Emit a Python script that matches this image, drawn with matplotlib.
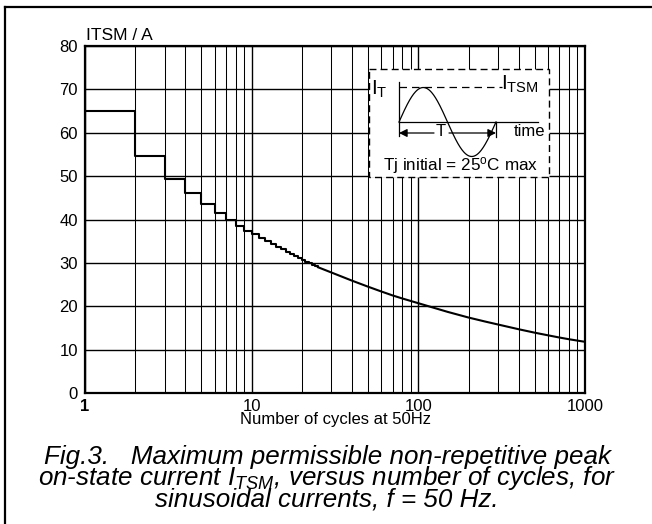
import numpy as np
import matplotlib
matplotlib.use("Agg")
import matplotlib.pyplot as plt
from matplotlib.lines import Line2D
from matplotlib.patches import Rectangle

plt.rcParams['font.family'] = ['Liberation Sans', 'DejaVu Sans']
plt.rcParams['mathtext.fontset'] = 'custom'
plt.rcParams['mathtext.rm'] = 'Liberation Sans'
plt.rcParams['mathtext.it'] = 'Liberation Sans:italic'

# ---- data ----
step_cycles = [1, 2, 3, 4, 5, 6, 7, 8, 9, 10, 11, 12, 13, 14, 15, 16, 17, 18, 19, 20, 21, 22, 23, 24, 25]
step_itsm = [65.0, 54.6, 49.3, 46.0, 43.5, 41.5, 40.0, 38.6, 37.4, 36.6, 35.8, 35.0, 34.3, 33.6,
             33.1, 32.5, 32.0, 31.5, 31.1, 30.7, 30.3, 29.9, 29.6, 29.3, 29.0]
smooth_cycles = [25, 30, 40, 50, 60, 70, 80, 100, 120, 150, 200, 250, 300, 400, 500, 600, 700, 800, 1000]
smooth_itsm = [29.0, 27.8, 25.9, 24.5, 23.4, 22.5, 21.8, 20.7, 19.8, 18.7, 17.4, 16.5, 15.8,
               14.7, 13.9, 13.3, 12.8, 12.4, 11.8]
y_ticks = [0, 10, 20, 30, 40, 50, 60, 70, 80]
x_ticks = [1, 10, 100, 1000]
x_tick_labels = ['1', '10', '100', '1000']

W, H = 652, 524
fig = plt.figure(figsize=(W / 100, H / 100), dpi=100)
fig.patch.set_facecolor('white')

def fx(px):
    return px / W

def fy(py):
    return 1 - py / H

# outer frame (left and top visible)
fig.add_artist(Line2D([fx(5), fx(5)], [fy(7), 0], color='black', lw=1.6, transform=fig.transFigure))
fig.add_artist(Line2D([fx(5), 1], [fy(7), fy(7)], color='black', lw=1.6, transform=fig.transFigure))

ax_l, ax_r, ax_t, ax_b = 85, 585, 46, 393
ax = fig.add_axes([fx(ax_l), fy(ax_b), fx(ax_r - ax_l), (ax_b - ax_t) / H])
ax.set_xscale('log')
ax.set_xlim(1, 1000)
ax.set_ylim(0, 80)

ax.step(step_cycles, step_itsm, where='post', color='black', lw=1.5, zorder=3)
ax.plot(smooth_cycles, smooth_itsm, color='black', lw=1.5, zorder=3)

ax.set_yticks(y_ticks)
ax.set_yticklabels([str(v) for v in y_ticks])
ax.set_xticks(x_ticks)
ax.set_xticklabels(x_tick_labels)
ax.xaxis.set_minor_locator(matplotlib.ticker.LogLocator(base=10, subs=np.arange(2, 10)))
ax.xaxis.set_minor_formatter(matplotlib.ticker.NullFormatter())
ax.tick_params(axis='both', which='both', length=0, labelsize=12, colors='black')
ax.tick_params(axis='y', pad=5)
ax.tick_params(axis='x', pad=4)
ax.get_xticklabels()[0].set_fontweight('bold')

ax.grid(True, which='major', axis='both', color='black', lw=1.0)
ax.grid(True, which='minor', axis='x', color='black', lw=0.75)
ax.set_axisbelow(True)
for s in ax.spines.values():
    s.set_linewidth(1.6)
    s.set_color('black')

ax.set_xlabel('Number of cycles at 50Hz', fontsize=12, labelpad=-1)
fig.text(fx(86), fy(35), 'ITSM / A', fontsize=12.5, ha='left', va='center')

# ---- inset schematic ----
bx0, by0, bx1, by1 = 368, 68, 549, 177
ins = fig.add_axes([fx(bx0), fy(by1), fx(bx1 - bx0), (by1 - by0) / H])
ins.set_xlim(bx0, bx1)
ins.set_ylim(by1, by0)
ins.axis('off')
ins.add_patch(Rectangle((bx0 + 0.5, by0 + 0.5), bx1 - bx0 - 1, by1 - by0 - 1, facecolor='white',
                        edgecolor='black', lw=1.0, ls=(0, (5, 3)), clip_on=False))
x0, base, per = 399, 122, 97
ins.plot([x0, x0], [82, 136], color='black', lw=0.9)
ins.plot([x0, 538], [base, base], color='black', lw=0.9)
ins.plot([x0, 502], [87, 87], color='black', lw=0.9, ls=(0, (6, 4)))
t = np.linspace(0, 1, 200)
ins.plot(x0 + per * t, base - 34.5 * np.sin(2 * np.pi * t), color='black', lw=0.9)
ins.plot([x0 + per, x0 + per], [base, 137], color='black', lw=0.9)
ins.annotate('', xy=(x0, 133), xytext=(434, 133),
             arrowprops=dict(arrowstyle='-|>', color='black', lw=0.9, mutation_scale=12, shrinkA=0, shrinkB=0))
ins.annotate('', xy=(x0 + per, 133), xytext=(449, 133),
             arrowprops=dict(arrowstyle='-|>', color='black', lw=0.9, mutation_scale=12, shrinkA=0, shrinkB=0))
ins.text(441, 131, 'T', fontsize=12, ha='center', va='center')
ins.text(529, 131, 'time', fontsize=12, ha='center', va='center')
ins.text(371, 89, r'$\mathrm{I}_\mathrm{T}$', fontsize=15, ha='left', va='center')
ins.text(501, 84, r'$\mathrm{I}_\mathrm{TSM}$', fontsize=15, ha='left', va='center')
ins.text(461, 166, r'Tj initial = 25$^\mathrm{o}$C max', fontsize=12.3, ha='center', va='center')

# ---- caption ----
caption = ('Fig.3.   Maximum permissible non-repetitive peak\n'
           r'on-state current $\mathit{I}_{\mathit{TSM}}$, versus number of cycles, for' '\n'
           'sinusoidal currents, f = 50 Hz.')
fig.text(fx(327), fy(478), caption, fontsize=18.7, style='italic', ha='center', va='center',
         multialignment='center', linespacing=0.77)

fig.savefig('out.png', dpi=100)
